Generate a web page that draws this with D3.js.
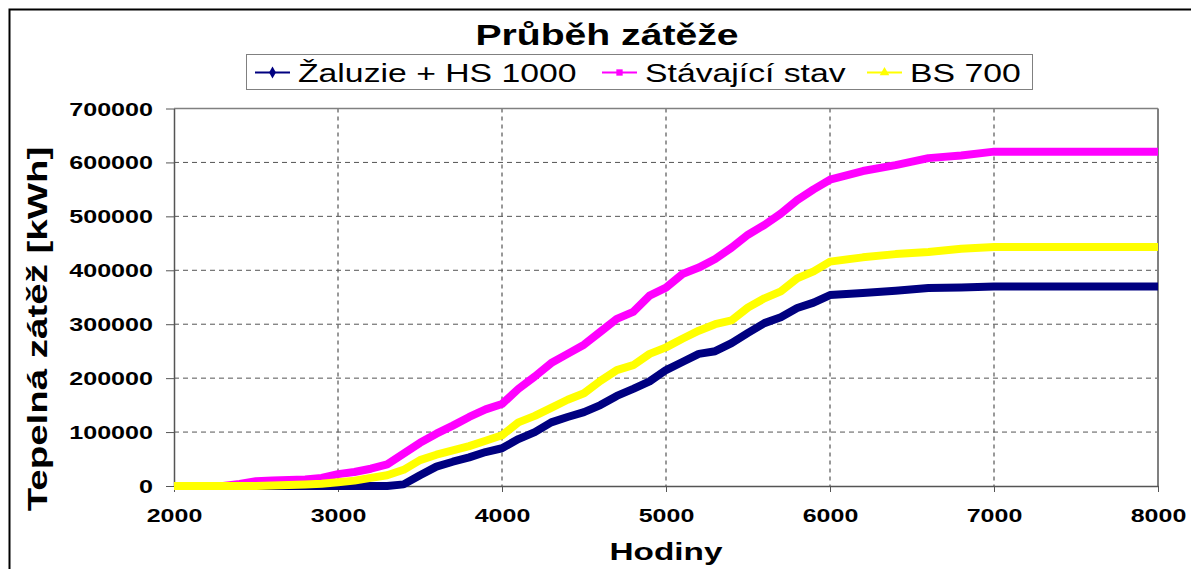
<!DOCTYPE html>
<html>
<head>
<meta charset="utf-8">
<script src="https://cdn.jsdelivr.net/npm/d3@7"></script>
<style>
  body { margin: 0; background: #fff; }
  text { font-family: "Liberation Sans", Arial, sans-serif; }
</style>
</head>
<body>
<div id="chart-container"></div>
<script>
// hours on the x axis
const hours = [2000, 2300, 2400, 2500, 2600, 2800, 2900, 3000, 3100, 3200, 3300, 3400, 3500,
    3600, 3700, 3800, 3900, 4000, 4100, 4200, 4300, 4400, 4500, 4600, 4700, 4800, 4900, 5000,
    5100, 5200, 5300, 5400, 5500, 5600, 5700, 5800, 5900, 6000, 6200, 6400, 6600, 6800, 7000,
    7500, 8000];

// Žaluzie + HS 1000
const zaluzie = [0, 0, 0, 0, 0, 0, 0, 0, 0, 0, 0, 3000, 20000,
    36000, 45000, 53000, 63000, 70000, 87000, 100000, 118000, 128000, 137000, 150000, 167000, 180000, 194000, 215000,
    230000, 245000, 250000, 265000, 284000, 302000, 313000, 330000, 340000, 354000, 358000, 362000, 367000, 368000, 370000,
    370000, 370000];

// Stávající stav
const stavajici = [0, 0, 4000, 9000, 10000, 12000, 15000, 22000, 26000, 32000, 40000, 60000, 80000,
    97000, 112000, 128000, 142000, 152000, 180000, 203000, 228000, 245000, 262000, 286000, 310000, 323000, 353000, 368000,
    393000, 405000, 421000, 442000, 466000, 484000, 505000, 530000, 550000, 568000, 584000, 595000, 608000, 613000, 620000,
    620000, 620000];

// BS 700
const bs700 = [0, 0, 0, 0, 1000, 3000, 4000, 7000, 10000, 15000, 20000, 30000, 48000,
    58000, 66000, 74000, 84000, 94000, 118000, 130000, 145000, 160000, 172000, 195000, 215000, 224000, 245000, 257000,
    273000, 288000, 300000, 307000, 331000, 348000, 361000, 385000, 398000, 416000, 424000, 430000, 434000, 440000, 443000,
    443000, 443000];

const seriesNames = ["Žaluzie + HS 1000", "Stávající stav", "BS 700"];
const seriesColors = ["#000080", "#ff00ff", "#ffff00"];
const seriesMarkers = ["diamond", "square", "triangle"];
const xTicks = [2000, 3000, 4000, 5000, 6000, 7000, 8000];
const yTicks = [0, 100000, 200000, 300000, 400000, 500000, 600000, 700000];

const width = 1191;
const height = 569;
const SX = 1.35; // wide text look of the original

const plot = { left: 174, right: 1158, top: 108.5, bottom: 486 };

const svg = d3.select("#chart-container")
    .append("svg")
    .attr("width", width)
    .attr("height", height);

// outer frame
svg.append("rect")
    .attr("x", 9.5).attr("y", 9.5)
    .attr("width", width + 20).attr("height", height + 20)
    .attr("fill", "none")
    .attr("stroke", "#000")
    .attr("stroke-width", 2);

const x = d3.scaleLinear().domain([2000, 8000]).range([plot.left, plot.right]);
const y = d3.scaleLinear().domain([0, 700000]).range([plot.bottom, plot.top]);

function wideText(g, px, py, str, size, anchor, bold, rotate) {
    const t = g.append("text")
        .attr("transform", `translate(${px},${py})` + (rotate ? ` rotate(${rotate})` : "") + ` scale(${SX},1)`)
        .attr("text-anchor", anchor)
        .style("font-size", size + "px")
        .style("font-weight", bold ? "bold" : "normal")
        .text(str);
    return t;
}

// grid lines
svg.append("g")
    .selectAll("line")
    .data(xTicks.slice(1, -1))
    .join("line")
    .attr("x1", d => x(d)).attr("x2", d => x(d))
    .attr("y1", plot.top).attr("y2", plot.bottom)
    .attr("stroke", "#333")
    .attr("stroke-dasharray", "4,4");

svg.append("g")
    .selectAll("line")
    .data(yTicks.slice(1, -1))
    .join("line")
    .attr("x1", plot.left).attr("x2", plot.right)
    .attr("y1", d => y(d)).attr("y2", d => y(d))
    .attr("stroke", "#555")
    .attr("stroke-dasharray", "5,4");

// plot border top/right
svg.append("line")
    .attr("x1", plot.left).attr("x2", plot.right)
    .attr("y1", plot.top).attr("y2", plot.top)
    .attr("stroke", "#808080").attr("stroke-width", 1.5);
svg.append("line")
    .attr("x1", plot.right).attr("x2", plot.right)
    .attr("y1", plot.top).attr("y2", plot.bottom)
    .attr("stroke", "#808080").attr("stroke-width", 2);

// axes
const xAxis = svg.append("g")
    .attr("transform", `translate(0,${plot.bottom})`)
    .call(d3.axisBottom(x).tickValues(xTicks).tickSize(6).tickSizeOuter(0).tickFormat(d3.format("d")));
const yAxis = svg.append("g")
    .attr("transform", `translate(${plot.left},0)`)
    .call(d3.axisLeft(y).tickValues(yTicks).tickSize(8).tickSizeOuter(0).tickFormat(d3.format("d")));

[xAxis, yAxis].forEach(a => {
    a.select(".domain").attr("stroke", "#555").attr("stroke-width", 1.5);
    a.selectAll(".tick line").attr("stroke", "#555");
    a.selectAll(".tick text").remove();
});

xAxis.selectAll(".tick").each(function (d) {
    wideText(d3.select(this), 0, 36, d, 18.5, "middle", true).attr("fill", "#000");
});
yAxis.selectAll(".tick").each(function (d) {
    wideText(d3.select(this), -21, 6.5, d, 18.6, "end", true).attr("fill", "#000");
});

// series lines
const line = d3.line()
    .x((d, i) => x(hours[i]))
    .y(d => y(d));

const seriesData = [zaluzie, stavajici, bs700];
svg.append("g")
    .selectAll("path")
    .data(seriesData)
    .join("path")
    .attr("d", d => line(d))
    .attr("fill", "none")
    .attr("stroke", (d, i) => seriesColors[i])
    .attr("stroke-width", 8)
    .attr("stroke-linejoin", "round");

// title
wideText(svg, 607, 45, "Průběh zátěže", 29, "middle", true);

// axis titles
wideText(svg, 666, 560, "Hodiny", 24.7, "middle", true);
wideText(svg, 47, 329, "Tepelná zátěž [kWh]", 28.5, "middle", true, -90);

// legend
const legend = svg.append("g");
legend.append("rect")
    .attr("x", 246.5).attr("y", 54.5)
    .attr("width", 786).attr("height", 35)
    .attr("fill", "#fff")
    .attr("stroke", "#808080");

const legendX = [255, 602, 867];
const symbol = { diamond: d3.symbolDiamond, square: d3.symbolSquare, triangle: d3.symbolTriangle };
seriesNames.forEach((name, i) => {
    const lx = legendX[i];
    legend.append("line")
        .attr("x1", lx).attr("x2", lx + 35)
        .attr("y1", 72.5).attr("y2", 72.5)
        .attr("stroke", seriesColors[i])
        .attr("stroke-width", 2);
    legend.append("path")
        .attr("transform", `translate(${lx + 17.5},72.5)`)
        .attr("d", d3.symbol().type(symbol[seriesMarkers[i]]).size(40))
        .attr("fill", seriesColors[i]);
    wideText(legend, lx + 43, 81.7, name, 25, "start", false);
});
</script>
</body>
</html>
